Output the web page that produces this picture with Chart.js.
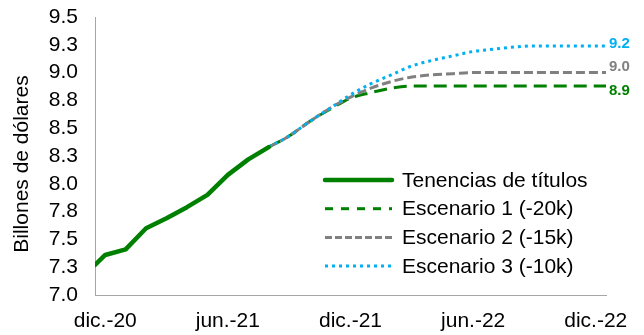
<!DOCTYPE html>
<html>
<head>
<meta charset="utf-8">
<script src="https://cdn.jsdelivr.net/npm/chart.js@4.4.1/dist/chart.umd.min.js"></script>
<style>
  html, body { margin: 0; padding: 0; background: #fff; }
  #wrap { width: 644px; height: 335px; }
</style>
</head>
<body>
<div id="wrap"><canvas id="c" width="644" height="335"></canvas></div>
<script>
// Months counted from Dec-2020 (0 = dic.-20, 24 = dic.-22)
const xTickMonths = [0, 6, 12, 18, 24];
const xTickLabels = ['dic.-20', 'jun.-21', 'dic.-21', 'jun.-22', 'dic.-22'];
const yTickValues = [7.0, 7.25, 7.5, 7.75, 8.0, 8.25, 8.5, 8.75, 9.0, 9.25, 9.5];

// Observed holdings (billions of dollars)
const holdingMonths = [-0.5, 0, 1, 2, 3, 4, 5, 6, 7, 8];
const holdings = [7.27, 7.36, 7.41, 7.60, 7.69, 7.79, 7.90, 8.08, 8.22, 8.33];

// Projected paths
const scenarioMonths = [8, 9, 10, 11, 12, 13, 14, 15, 16, 17, 18, 19, 20, 21, 22, 23, 24, 24.5];
const scenario1 = [8.33, 8.43, 8.56, 8.67, 8.77, 8.82, 8.86, 8.88, 8.88, 8.88, 8.88, 8.88, 8.88, 8.88, 8.88, 8.88, 8.88, 8.88];
const scenario2 = [8.33, 8.43, 8.56, 8.68, 8.78, 8.86, 8.92, 8.96, 8.98, 8.99, 9.00, 9.00, 9.00, 9.00, 9.00, 9.00, 9.00, 9.00];
const scenario3 = [8.33, 8.43, 8.56, 8.68, 8.80, 8.90, 8.98, 9.06, 9.11, 9.15, 9.19, 9.21, 9.23, 9.24, 9.24, 9.24, 9.24, 9.24];

const seriesNames = ['Tenencias de títulos', 'Escenario 1 (-20k)', 'Escenario 2 (-15k)', 'Escenario 3 (-10k)'];

const GREEN = '#008000';
const GRAY = '#808080';
const BLUE = '#00b0f0';
const FONT = "'Liberation Sans', Arial, sans-serif";

const pts = (xs, ys) => xs.map((x, i) => ({ x: x, y: ys[i] }));

// Legend sample styles and end-label offsets per dataset
const legendStyle = [
  { dash: [], width: 4.5 },
  { dash: [8, 8], width: 3 },
  { dash: [7, 3], width: 3 },
  { dash: [3, 4], width: 3 }
];
const endLabelOffsetY = [null, 5, -6, -2];

const overlay = {
  id: 'overlay',
  afterDatasetsDraw(chart) {
    const ctx = chart.ctx;
    // value labels at the end of each projected path
    chart.data.datasets.forEach((ds, i) => {
      if (endLabelOffsetY[i] === null) return;
      const meta = chart.getDatasetMeta(i);
      const last = meta.data[meta.data.length - 1];
      const v = ds.data[ds.data.length - 1].y;
      ctx.save();
      ctx.font = 'bold 15px ' + FONT;
      ctx.fillStyle = ds.borderColor;
      ctx.textAlign = 'left';
      ctx.textBaseline = 'middle';
      ctx.fillText(v.toFixed(1), last.x + 3, last.y + endLabelOffsetY[i]);
      ctx.restore();
    });

    // legend inside the plot
    const lx0 = 325, lx1 = 392, tx = 402, y0 = 180, dy = 28.7;
    chart.data.datasets.forEach((ds, i) => {
      const y = y0 + i * dy;
      ctx.save();
      ctx.strokeStyle = ds.borderColor;
      ctx.lineWidth = legendStyle[i].width;
      ctx.setLineDash(legendStyle[i].dash);
      ctx.lineCap = i === 0 ? 'round' : 'butt';
      ctx.beginPath();
      ctx.moveTo(lx0, y);
      ctx.lineTo(lx1, y);
      ctx.stroke();
      ctx.restore();
      ctx.save();
      ctx.font = '21px ' + FONT;
      ctx.fillStyle = '#000';
      ctx.textAlign = 'left';
      ctx.textBaseline = 'middle';
      ctx.fillText(ds.label, tx, y + 1);
      ctx.restore();
    });

    // vertical axis title
    ctx.save();
    ctx.translate(22, 164);
    ctx.rotate(-Math.PI / 2);
    ctx.font = '21px ' + FONT;
    ctx.fillStyle = '#000';
    ctx.textAlign = 'center';
    ctx.textBaseline = 'middle';
    ctx.fillText('Billones de dólares', 0, 0);
    ctx.restore();
  }
};

new Chart(document.getElementById('c'), {
  type: 'line',
  data: {
    datasets: [
      { label: seriesNames[0], data: pts(holdingMonths, holdings), borderColor: GREEN, borderWidth: 4.5,
        borderCapStyle: 'round', borderJoinStyle: 'round', tension: 0, order: 0 },
      { label: seriesNames[1], data: pts(scenarioMonths, scenario1), borderColor: GREEN, borderWidth: 3,
        borderDash: [13, 7], cubicInterpolationMode: 'monotone', order: 3 },
      { label: seriesNames[2], data: pts(scenarioMonths, scenario2), borderColor: GRAY, borderWidth: 3,
        borderDash: [9, 4], cubicInterpolationMode: 'monotone', order: 2 },
      { label: seriesNames[3], data: pts(scenarioMonths, scenario3), borderColor: BLUE, borderWidth: 3,
        borderDash: [3, 4], cubicInterpolationMode: 'monotone', order: 1 }
    ]
  },
  options: {
    responsive: false,
    animation: false,
    devicePixelRatio: 1,
    layout: { padding: { top: 17, right: 38, left: 0, bottom: 0 } },
    elements: { point: { radius: 0, hoverRadius: 0 }, line: { fill: false } },
    plugins: { legend: { display: false }, tooltip: { enabled: false } },
    scales: {
      x: {
        type: 'linear',
        min: -0.5,
        max: 24.5,
        afterBuildTicks: (s) => { s.ticks = xTickMonths.map(v => ({ value: v })); },
        afterFit: (s) => { s.height = 40; s.paddingLeft = 0; s.paddingRight = 0; },
        ticks: {
          autoSkip: false, maxRotation: 0, minRotation: 0, padding: 14,
          color: '#000', font: { family: FONT, size: 21 },
          callback: (v) => xTickLabels[xTickMonths.indexOf(v)]
        },
        grid: { display: false, drawTicks: false },
        border: { display: true, color: '#a6a6a6', width: 1 }
      },
      y: {
        type: 'linear',
        min: 7,
        max: 9.5,
        afterBuildTicks: (s) => { s.ticks = yTickValues.map(v => ({ value: v })); },
        afterFit: (s) => { s.width = 95; s.paddingTop = 0; s.paddingBottom = 0; },
        ticks: {
          autoSkip: false,
          padding: 17,
          color: '#000', font: { family: FONT, size: 21 },
          callback: (v) => v.toFixed(1)
        },
        grid: { display: false, drawTicks: false },
        border: { display: true, color: '#a6a6a6', width: 1 }
      }
    }
  },
  plugins: [overlay]
});
</script>
</body>
</html>
